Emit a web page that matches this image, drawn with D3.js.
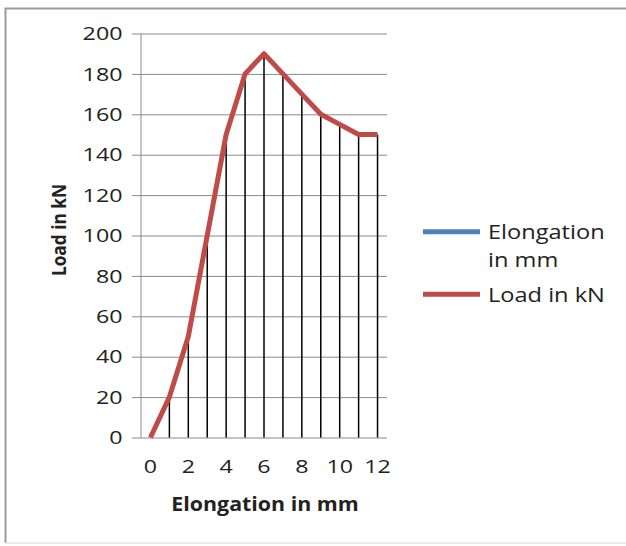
<!DOCTYPE html>
<html lang="en">
    <head>
        <meta charset="utf-8">
        <title>Load vs Elongation</title>
        <script type="text/javascript" src="https://cdn.jsdelivr.net/npm/d3@7"></script>
        <style type="text/css">
            body { margin: 0; background: #fff; }
            svg text { font-family: "Open Sans", sans-serif; fill: #222; }
        </style>
    </head>
    <body>
        <script type="text/javascript">
        // Data
        var elongation = [0, 1, 2, 3, 4, 5, 6, 7, 8, 9, 10, 11, 12];      // mm (categories)
        var load = [0, 20, 50, 100, 150, 180, 190, 180, 170, 160, 155, 150, 150]; // kN
        var yTicks = [0, 20, 40, 60, 80, 100, 120, 140, 160, 180, 200];
        var xTickLabels = [0, 2, 4, 6, 8, 10, 12];
        var seriesNames = ["Elongation in mm", "Load in kN"];
        var seriesColors = ["#4F81BD", "#BE4B48"];

        var svgWidth = 626;
        var svgHeight = 546;
        var plot = { left: 141, right: 387, top: 33.5, bottom: 437.5 };

        var svg = d3.select("body")
            .append("svg")
            .attr("width", svgWidth)
            .attr("height", svgHeight);

        // the source picture is stretched sideways, so text gets a scaleX
        function place(x, y, sx) {
            return "translate(" + x + "," + y + ") scale(" + sx + ",1)";
        }

        // chart frame
        svg.append("path")
            .attr("d", "M5.5," + (svgHeight - 3) + "V8.5H" + svgWidth)
            .attr("fill", "none")
            .attr("stroke", "#9c9c9c")
            .attr("stroke-width", 2);
        svg.append("line")
            .attr("x1", 5).attr("x2", svgWidth)
            .attr("y1", svgHeight - 3).attr("y2", svgHeight - 3)
            .attr("stroke", "#d8d8d8");

        var x = d3.scaleBand()
            .domain(elongation)
            .range([plot.left, plot.right]);
        var cx = function(d) { return x(d) + x.bandwidth() / 2; };

        var y = d3.scaleLinear()
            .domain([0, 200])
            .range([plot.bottom, plot.top]);

        // gridlines + tick marks
        var yAxis = d3.axisLeft(y)
            .tickValues(yTicks)
            .tickSize(-(plot.right - plot.left))
            .tickFormat("");
        var gy = svg.append("g")
            .attr("transform", "translate(" + plot.left + ",0)")
            .call(yAxis);
        gy.select(".domain").remove();
        gy.selectAll(".tick line")
            .attr("x1", -9)
            .attr("stroke", "#8a8a8a");
        svg.append("line")
            .attr("x1", plot.left).attr("x2", plot.left)
            .attr("y1", plot.top).attr("y2", plot.bottom)
            .attr("stroke", "#8a8a8a");

        // y tick labels
        svg.selectAll("text.ylab")
            .data(yTicks)
            .enter()
            .append("text")
            .attr("class", "ylab")
            .attr("text-anchor", "end")
            .attr("font-size", "18.6px")
            .attr("transform", function(d) { return place(122.5, y(d) + 6.7, 1.25); })
            .text(function(d) { return d; });

        // x tick labels
        svg.selectAll("text.xlab")
            .data(xTickLabels)
            .enter()
            .append("text")
            .attr("class", "xlab")
            .attr("text-anchor", "middle")
            .attr("font-size", "18.6px")
            .attr("transform", function(d) { return place(cx(d), 473.3, 1.25); })
            .text(function(d) { return d; });

        // drop lines
        svg.selectAll("line.drop")
            .data(load)
            .enter()
            .append("line")
            .attr("class", "drop")
            .attr("x1", function(d, i) { return cx(elongation[i]); })
            .attr("x2", function(d, i) { return cx(elongation[i]); })
            .attr("y1", function(d) { return y(d); })
            .attr("y2", y(0))
            .attr("stroke", "#000")
            .attr("stroke-width", 1.5);

        // load line
        var line = d3.line()
            .x(function(d, i) { return cx(elongation[i]); })
            .y(function(d) { return y(d); });
        svg.append("path")
            .datum(load)
            .attr("d", line)
            .attr("fill", "none")
            .attr("stroke", seriesColors[1])
            .attr("stroke-width", 5)
            .attr("stroke-linejoin", "round");

        // axis titles
        svg.append("text")
            .attr("transform", place(265, 510.7, 1.09))
            .attr("text-anchor", "middle")
            .attr("font-size", "19.6px")
            .attr("font-weight", "bold")
            .text("Elongation in mm");
        svg.append("text")
            .attr("transform", place(65.5, 230, 1.18) + " rotate(-90)")
            .attr("text-anchor", "middle")
            .attr("font-size", "17.3px")
            .attr("font-weight", "bold")
            .text("Load in kN");

        // legend
        var legendY = [231.7, 294.3];
        var legend = svg.selectAll("g.legend")
            .data(seriesNames)
            .enter()
            .append("g")
            .attr("class", "legend")
            .attr("transform", function(d, i) { return "translate(423," + legendY[i] + ")"; });
        legend.append("line")
            .attr("x1", 0).attr("x2", 57)
            .attr("stroke", function(d, i) { return seriesColors[i]; })
            .attr("stroke-width", 5);
        legend.append("text")
            .attr("transform", place(65, 7.5, 1.18))
            .attr("font-size", "20px")
            .each(function(d, i) {
                var t = d3.select(this);
                if (i === 0) {
                    t.append("tspan").attr("x", 0).text("Elongation");
                    t.append("tspan").attr("x", 0).attr("dy", 27.5).text("in mm");
                } else {
                    t.text(d);
                }
            });
        </script>
    </body>
</html>
